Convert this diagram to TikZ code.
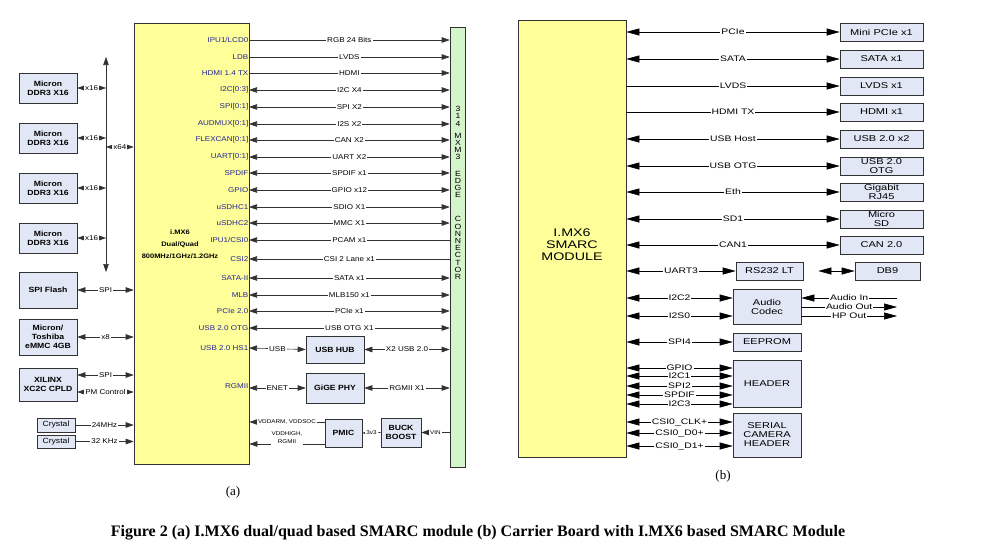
\documentclass[tikz,border=0pt]{standalone}
\usepackage{fontspec}
\setmainfont{Liberation Serif}
\newfontfamily\dgfont[FakeStretch=1.15]{Liberation Sans}
\newfontfamily\cbfont[FakeStretch=1.3]{Liberation Sans}
\usetikzlibrary{arrows.meta, positioning}
\definecolor{chipyellow}{RGB}{255,255,153}
\definecolor{blkfill}{RGB}{226,231,245}
\definecolor{edgegreen}{RGB}{212,244,204}
\definecolor{pinblue}{RGB}{35,35,150}
\definecolor{linegray}{RGB}{50,50,50}

\begin{document}
\begin{tikzpicture}[x=1pt, y=-1pt,
  chip/.style={rectangle, draw=linegray, fill=chipyellow, line width=0.6pt},
  conn/.style={rectangle, draw=linegray, fill=edgegreen, line width=0.6pt},
  blk/.style={rectangle, draw=linegray, fill=blkfill, line width=0.6pt, align=center,
              inner sep=1pt, font=\dgfont\fontsize{7.5}{9}\selectfont\bfseries},
  cblk/.style={rectangle, draw=linegray, fill=blkfill, line width=0.6pt, align=center,
               inner sep=1pt, font=\cbfont\fontsize{8.5}{9}\selectfont},
  pinlbl/.style={anchor=east, inner sep=0.5pt, text=pinblue, font=\dgfont\fontsize{7}{8}\selectfont},
  sigtxt/.style={fill=white, inner sep=1pt, font=\dgfont\fontsize{7}{8}\selectfont},
  csig/.style={fill=white, inner sep=1pt, font=\cbfont\fontsize{8}{8}\selectfont},
  wire/.style={draw=linegray, line width=0.6pt, >={Triangle[length=8pt,width=5.5pt]}},
  cwire/.style={draw=black, line width=0.6pt, >={Triangle[length=13pt,width=7pt]}}]

  \useasboundingbox (0,0) rectangle (990,549);

  % (a) SMARC module
  \node[chip, minimum width=115, minimum height=441] (imx) at (191.5,243.5) {};
  \node[font=\dgfont\fontsize{6.5}{12}\selectfont\bfseries, align=center] (imxtxt) at (180,244)
    {i.MX6\\Dual/Quad\\800MHz/1GHz/1.2GHz};
  \node[conn, minimum width=15, minimum height=440] (mxm) at (457.5,247) {};
  \node[font=\dgfont\fontsize{7.5}{7.2}\selectfont, align=center] (mxmtxt) at (458,193)
    {3\\1\\4\\[5pt]M\\X\\M\\3\\[9pt]E\\D\\G\\E\\[17pt]C\\O\\N\\N\\E\\C\\T\\O\\R};

  \foreach \y/\pinname/\sig/\dir [count=\i] in {
      40/{IPU1/LCD0}/RGB 24 Bits/->, 57/LDB/LVDS/->, 73/HDMI 1.4 TX/HDMI/->,
      90/I2C[0:3]/I2C X4/<->, 107/SPI[0:1]/SPI X2/<->, 124/AUDMUX[0:1]/I2S X2/<->,
      140/FLEXCAN[0:1]/CAN X2/<->, 157/UART[0:1]/UART X2/<->, 173/SPDIF/SPDIF x1/<->,
      190/GPIO/GPIO x12/<->, 207/uSDHC1/SDIO X1/<->, 223/uSDHC2/MMC X1/<->,
      240/{IPU1/CSI0}/PCAM x1/<-, 259/CSI2/CSI 2 Lane x1/<-, 278/SATA-II/SATA x1/<->,
      295/MLB/MLB150 x1/<->, 311/PCIe 2.0/PCIe x1/<->, 328/USB 2.0 OTG/USB OTG X1/<->}
  {
    \node[pinlbl] (pa\i) at (249,\y) {\pinname};
    \draw[wire,\dir] (pa\i.east) -- node[sigtxt] {\sig} (pa\i.east -| mxm.west);
  }

  \node[pinlbl] (hs1) at (249,348) {USB 2.0 HS1};
  \node[pinlbl] (rgmii) at (249,386) {RGMII};
  \node[blk, minimum width=58, minimum height=27] (hub) at (335,349.5) {USB HUB};
  \node[blk, minimum width=58, minimum height=30] (phy) at (335,388) {GiGE PHY};
  \node[blk, minimum width=37, minimum height=28] (pmic) at (343.5,433) {PMIC};
  \node[blk, minimum width=40, minimum height=29] (buck) at (401,432.5) {BUCK\\BOOST};

  \draw[wire,<->] (hs1.east) -- node[sigtxt] {USB} (hub.west);
  \draw[wire,<->] (hub.east) -- node[sigtxt] {X2 USB 2.0} (hub.east -| mxm.west);
  \draw[wire,<->] (rgmii.east |- phy.west) -- node[sigtxt] {ENET} (phy.west);
  \draw[wire,<->] (phy.east) -- node[sigtxt] {RGMII X1} (phy.east -| mxm.west);
  \draw[wire,->] ([yshift=11pt]pmic.west) -- node[sigtxt, font=\dgfont\fontsize{5.5}{6}\selectfont]
    {VDDARM, VDDSOC} ([yshift=11pt]pmic.west -| imx.east);
  \draw[wire,->] ([yshift=-11pt]pmic.west) -- node[sigtxt, yshift=6pt, align=center,
    font=\dgfont\fontsize{5.5}{8}\selectfont] {VDDHIGH,\\RGMII} ([yshift=-11pt]pmic.west -| imx.east);
  \draw[wire,<-] (pmic.east) -- node[sigtxt, font=\dgfont\fontsize{5.5}{6}\selectfont] {3v3} (buck.west);
  \draw[wire,<-] (buck.east) -- node[sigtxt, font=\dgfont\fontsize{5.5}{6}\selectfont] {VIN} (buck.east -| mxm.west);

  \foreach \y [count=\i] in {88,138,188,238}
    \node[blk, minimum width=58, minimum height=30] (ddr\i) at (48,\y) {Micron\\DDR3 X16};
  \node[blk, minimum width=58, minimum height=36] (flash) at (48,290) {SPI Flash};
  \node[blk, minimum width=58, minimum height=36] (emmc) at (48,337) {Micron/\\Toshiba\\eMMC 4GB};
  \node[blk, minimum width=58, minimum height=33] (cpld) at (48,384.5) {XILINX\\XC2C CPLD};
  \node[blk, font=\dgfont\fontsize{7.5}{9}\selectfont, minimum width=38, minimum height=14] (xtal1) at (56,425) {Crystal};
  \node[blk, font=\dgfont\fontsize{7.5}{9}\selectfont, minimum width=38, minimum height=13] (xtal2) at (56,441.5) {Crystal};

  \coordinate (busT) at (106,57);
  \coordinate (busB) at (106,272);
  \coordinate (busM) at (106,147);
  \draw[wire,<->] (busT) -- (busB);
  \foreach \i in {1,...,4}
    \draw[wire,<->] (ddr\i.east) -- node[sigtxt] {x16} (ddr\i.east -| busT);
  \draw[wire,<->] (busM) -- node[sigtxt] {x64} (busM -| imx.west);
  \draw[wire,<->] (flash.east) -- node[sigtxt] {SPI} (flash.east -| imx.west);
  \draw[wire,<->] (emmc.east) -- node[sigtxt] {x8} (emmc.east -| imx.west);
  \draw[wire,<->] ([yshift=9.5pt]cpld.east) -- node[sigtxt] {SPI} ([yshift=9.5pt]cpld.east -| imx.west);
  \draw[wire,<->] ([yshift=-7.5pt]cpld.east) -- node[sigtxt] {PM Control} ([yshift=-7.5pt]cpld.east -| imx.west);
  \draw[wire,->] (xtal1.east) -- node[sigtxt] {24MHz} (xtal1.east -| imx.west);
  \draw[wire,->] (xtal2.east) -- node[sigtxt] {32 KHz} (xtal2.east -| imx.west);

  % (b) carrier board
  \node[chip, minimum width=108, minimum height=437] (smarc) at (572,238.5) {};
  \node[font=\cbfont\fontsize{11}{12}\selectfont, align=center] (smarctxt) at (572,245) {I.MX6\\SMARC\\MODULE};

  \foreach \y/\sig/\txt/\dir [count=\i] in {
      32/PCIe/Mini PCIe x1/<->, 59/SATA/SATA x1/<->, 86/LVDS/LVDS x1/->,
      112/HDMI TX/HDMI x1/->, 139/USB Host/USB 2.0 x2/<->, 166/USB OTG/{USB 2.0\\OTG}/<->,
      192/Eth/{Gigabit\\RJ45}/<->, 219/SD1/{Micro\\SD}/<->, 245/CAN1/CAN 2.0/<->}
  {
    \node[cblk, minimum width=83, minimum height=18] (cb\i) at (881.5,\y) {\txt};
    \draw[cwire,\dir] (cb\i.west -| smarc.east) -- node[csig] {\sig} (cb\i.west);
  }

  \node[cblk, minimum width=67, minimum height=18] (rs232) at (769.5,271) {RS232 LT};
  \node[cblk, minimum width=65, minimum height=18] (db9) at (887.5,271) {DB9};
  \node[cblk, minimum width=68, minimum height=35] (codec) at (767,306.5) {Audio\\Codec};
  \node[cblk, minimum width=68, minimum height=18] (eeprom) at (767,342) {EEPROM};
  \node[cblk, minimum width=68, minimum height=47] (header) at (767,383.5) {HEADER};
  \node[cblk, minimum width=68, minimum height=44] (cam) at (767,435) {SERIAL\\CAMERA\\HEADER};

  \draw[cwire,<->] (rs232.west -| smarc.east) -- node[csig] {UART3} (rs232.west);
  \draw[cwire,<->, shorten <=15pt] (rs232.east) -- (db9.west);
  \draw[cwire,<->] (smarc.east |- 0,298) -- node[csig] {I2C2} (codec.west |- 0,298);
  \draw[cwire,<->] (smarc.east |- 0,316) -- node[csig] {I2S0} (codec.west |- 0,316);
  \draw[cwire,<->] (eeprom.west -| smarc.east) -- node[csig] {SPI4} (eeprom.west);

  \coordinate (ain) at (897,298);
  \coordinate (aout) at (897,307);
  \coordinate (hpout) at (897,316);
  \draw[cwire,<-] (codec.east |- ain) -- node[csig] {Audio In} (ain);
  \draw[cwire,->] (codec.east |- aout) -- node[csig] {Audio Out} (aout);
  \draw[cwire,->] (codec.east |- hpout) -- node[csig] {HP Out} (hpout);

  \foreach \y/\sig in {368/GPIO, 376/I2C1, 386/SPI2, 395/SPDIF, 404/I2C3}
    \draw[cwire,<->] (smarc.east |- 0,\y) -- node[csig, inner ysep=0pt] {\sig} (header.west |- 0,\y);
  \foreach \y/\sig in {422/CSI0\_CLK+/-, 433/CSI0\_D0+/-, 446/CSI0\_D1+/-}
    \draw[cwire,<->] (smarc.east |- 0,\y) -- node[csig] {\sig} (cam.west |- 0,\y);

  \node[font=\fontsize{13}{15}\selectfont] (laba) at (233,492) {(a)};
  \node[font=\fontsize{13}{15}\selectfont] (labb) at (723,476) {(b)};
  \node[font=\fontsize{16}{18}\selectfont\bfseries] (caption) at (478,533)
    {Figure 2 (a) I.MX6 dual/quad based SMARC module (b) Carrier Board with I.MX6 based SMARC Module};
\end{tikzpicture}
\end{document}
